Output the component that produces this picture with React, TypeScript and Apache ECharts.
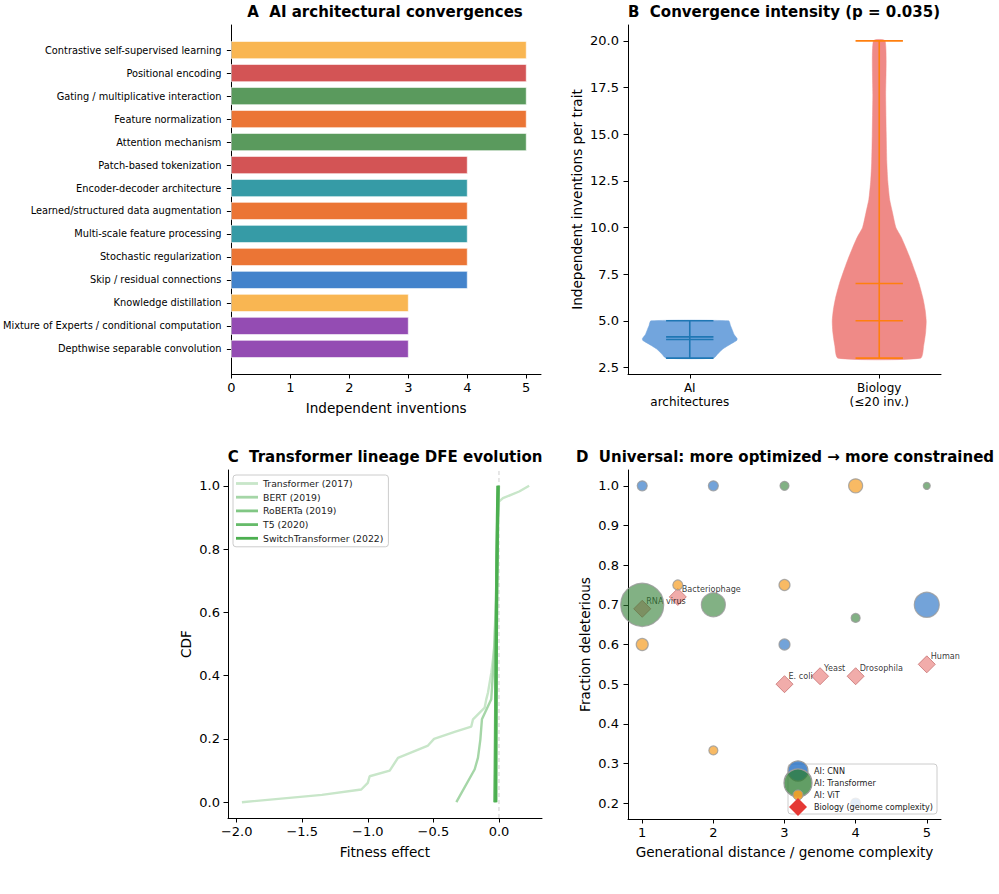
import React, { useEffect, useRef } from 'react';
import * as echarts from 'echarts';

// ---------- Panel A data ----------
const traits = [
  'Contrastive self-supervised learning',
  'Positional encoding',
  'Gating / multiplicative interaction',
  'Feature normalization',
  'Attention mechanism',
  'Patch-based tokenization',
  'Encoder-decoder architecture',
  'Learned/structured data augmentation',
  'Multi-scale feature processing',
  'Stochastic regularization',
  'Skip / residual connections',
  'Knowledge distillation',
  'Mixture of Experts / conditional computation',
  'Depthwise separable convolution',
];
const inventions = [5, 5, 5, 5, 5, 4, 4, 4, 4, 4, 4, 3, 3, 3];
const inventionTicks = [0, 1, 2, 3, 4, 5];
const barColors = [
  '#f9b652', '#d35455', '#5a9a5d', '#eb7535', '#5a9a5d', '#d35455', '#369ba6',
  '#eb7535', '#369ba6', '#eb7535', '#4383cb', '#f9b652', '#944cb3', '#944cb3',
];

// ---------- Panel B data ----------
const violinGroups = ['AI\narchitectures', 'Biology\n(≤20 inv.)'];
const aiLevels = [3.0, 3.25, 3.5, 3.75, 3.95, 4.05, 4.25, 4.5, 4.75, 5.0];
const aiHalfWidths = [0.125, 0.15, 0.176, 0.215, 0.248, 0.25, 0.235, 0.225, 0.215, 0.205];
const bioLevels = [3.0, 3.7, 4.4, 5.0, 5.6, 6.2, 7.0, 7.6, 8.3, 8.9, 9.5, 10.0, 10.8, 11.5, 12.5, 13.5, 15, 17, 20];
const bioHalfWidths = [0.218, 0.235, 0.245, 0.248, 0.242, 0.231, 0.21, 0.19, 0.165, 0.141, 0.115, 0.088, 0.07, 0.055, 0.045, 0.04, 0.037, 0.034, 0.031];
const groupMin = [3, 3];
const groupMax = [5, 20];
const groupMean = [4.14, 7.0];
const groupMedian = [4, 5];
const intensityTicks = [2.5, 5, 7.5, 10, 12.5, 15, 17.5, 20];

// ---------- Panel C data ----------
const lineageModels = ['Transformer (2017)', 'BERT (2019)', 'RoBERTa (2019)', 'T5 (2020)', 'SwitchTransformer (2022)'];
const transformerDFE = [
  [-1.96, 0.0], [-1.35, 0.023], [-1.05, 0.04], [-1.0, 0.061], [-0.986, 0.082], [-0.833, 0.1],
  [-0.77, 0.14], [-0.541, 0.179], [-0.495, 0.2], [-0.338, 0.222], [-0.211, 0.239], [-0.198, 0.262],
  [-0.109, 0.299], [-0.097, 0.325], [-0.084, 0.346], [-0.058, 0.41], [-0.04, 0.473], [-0.033, 0.514],
  [-0.02, 0.65], [-0.01, 0.8], [0.0, 0.95], [0.03, 0.961], [0.154, 0.982], [0.23, 1.0],
];
const bertDFE = [
  [-0.325, 0.0], [-0.185, 0.104], [-0.16, 0.141], [-0.142, 0.198], [-0.13, 0.262], [-0.059, 0.325],
  [-0.046, 0.41], [-0.033, 0.514], [-0.02, 0.7], [-0.008, 0.9], [0.0, 1.0],
];
const robertaDFE = [[-0.035, 0.0], [-0.03, 0.2], [-0.025, 0.45], [-0.015, 0.75], [-0.006, 0.95], [-0.002, 1.0]];
const t5DFE = [[-0.028, 0.0], [-0.024, 0.4], [-0.016, 0.8], [-0.006, 1.0]];
const switchDFE = [[-0.024, 0.0], [-0.02, 0.5], [-0.012, 0.9], [-0.008, 1.0]];
const fitnessTicks = [-2, -1.5, -1, -0.5, 0];
const cdfTicks = [0, 0.2, 0.4, 0.6, 0.8, 1.0];

// ---------- Panel D data ----------
const cnnX = [1, 2, 3, 5, 4];
const cnnY = [1.0, 1.0, 0.6, 0.7, 0.2];
const cnnArea = [100, 100, 121, 625, 100];
const transX = [1, 2, 3, 4, 5];
const transY = [0.7, 0.7, 1.0, 0.667, 1.0];
const transArea = [1849, 576, 81, 81, 49];
const vitX = [1, 1.5, 2, 3, 4];
const vitY = [0.6, 0.75, 0.333, 0.75, 1.0];
const vitArea = [144, 100, 81, 121, 196];
const organisms = ['RNA virus', 'Bacteriophage', 'E. coli', 'Yeast', 'Drosophila', 'Human'];
const organismX = [1, 1.5, 3, 3.5, 4, 5];
const organismY = [0.69, 0.72, 0.5, 0.52, 0.52, 0.55];
const distanceTicks = [1, 2, 3, 4, 5];
const fractionTicks = [0.2, 0.3, 0.4, 0.5, 0.6, 0.7, 0.8, 0.9, 1.0];

const FONT = 'DejaVu Sans';
const TICK = 13;
const NAME = 13.6;

function fmtMinus(v: number, d: number) {
  const s = Math.abs(v).toFixed(d);
  return v < -1e-9 ? '\u2212' + s : s;
}

function axisBase(extra: any = {}) {
  return {
    axisLine: { show: true, onZero: false, lineStyle: { color: '#000', width: 1 } },
    splitLine: { show: false },
    nameTextStyle: { color: '#000', fontFamily: FONT, fontSize: NAME },
    ...extra,
  };
}
function ticks(vals: number[]) {
  return { show: true, length: 4.5, customValues: vals, lineStyle: { color: '#000', width: 1 } };
}

export default function App() {
  const ref = useRef<HTMLDivElement>(null);
  useEffect(() => {
    if (!ref.current) return;
    const chart = echarts.init(ref.current, null, { renderer: 'svg' });

    const lineColors = ['#c8e6c9', '#a5d6a7', '#81c784', '#66bb6a', '#4caf50'];
    const lineWidths = [2.4, 2.4, 2.6, 2.9, 3.2];
    const dfeData = [transformerDFE, bertDFE, robertaDFE, t5DFE, switchDFE];

    const titleStyle = (text: string) => ({ text, fontFamily: FONT, fontSize: 15, fontWeight: 'bold', fill: '#000', align: 'center', verticalAlign: 'middle' });

    const option: any = {
      animation: false,
      backgroundColor: '#fff',
      textStyle: { fontFamily: FONT },
      grid: [
        { left: 229, top: 25, width: 312, height: 349 },
        { left: 628, top: 25, width: 313, height: 349 },
        { left: 228, top: 470, width: 314, height: 348 },
        { left: 628, top: 470, width: 313, height: 349 },
      ],
      xAxis: [
        axisBase({
          type: 'value', gridIndex: 0, min: 0, max: 5.25,
          name: 'Independent inventions', nameLocation: 'middle', nameGap: 27,
          axisTick: ticks(inventionTicks),
          axisLabel: { customValues: inventionTicks, color: '#000', fontSize: TICK, margin: 7, fontFamily: FONT },
        }),
        axisBase({
          type: 'value', gridIndex: 1, min: 0.674, max: 2.326,
          axisTick: ticks([1, 2]),
          axisLabel: {
            customValues: [1, 2], color: '#000', fontSize: 12, margin: 7, lineHeight: 14, fontFamily: FONT,
            formatter: (v: number) => violinGroups[Math.round(v) - 1],
          },
        }),
        axisBase({
          type: 'value', gridIndex: 2, min: -2.066, max: 0.328,
          name: 'Fitness effect', nameLocation: 'middle', nameGap: 27,
          axisTick: ticks(fitnessTicks),
          axisLabel: {
            customValues: fitnessTicks, color: '#000', fontSize: TICK, margin: 7, fontFamily: FONT,
            formatter: (v: number) => fmtMinus(v, 1),
          },
        }),
        axisBase({
          type: 'value', gridIndex: 3, min: 0.8, max: 5.2,
          name: 'Generational distance / genome complexity', nameLocation: 'middle', nameGap: 26,
          axisTick: ticks(distanceTicks),
          axisLabel: { customValues: distanceTicks, color: '#000', fontSize: TICK, margin: 7, fontFamily: FONT },
        }),
      ],
      yAxis: [
        axisBase({
          type: 'value', gridIndex: 0, min: -1.09, max: 14.09, inverse: true,
          axisTick: ticks(traits.map((_, i) => i)),
          axisLabel: {
            customValues: traits.map((_, i) => i), color: '#000', fontSize: 9.8, margin: 10, fontFamily: FONT,
            formatter: (v: number) => traits[Math.round(v)],
          },
        }),
        axisBase({
          type: 'value', gridIndex: 1, min: 2.15, max: 20.85,
          name: 'Independent inventions per trait', nameLocation: 'middle', nameGap: 44,
          axisTick: ticks(intensityTicks),
          axisLabel: {
            customValues: intensityTicks, color: '#000', fontSize: TICK, margin: 9, fontFamily: FONT,
            formatter: (v: number) => v.toFixed(1),
          },
        }),
        axisBase({
          type: 'value', gridIndex: 2, min: -0.05, max: 1.05,
          name: 'CDF', nameLocation: 'middle', nameGap: 35,
          axisTick: ticks(cdfTicks),
          axisLabel: {
            customValues: cdfTicks, color: '#000', fontSize: TICK, margin: 8, fontFamily: FONT,
            formatter: (v: number) => v.toFixed(1),
          },
        }),
        axisBase({
          type: 'value', gridIndex: 3, min: 0.16, max: 1.04,
          name: 'Fraction deleterious', nameLocation: 'middle', nameGap: 36,
          axisTick: ticks(fractionTicks),
          axisLabel: {
            customValues: fractionTicks, color: '#000', fontSize: TICK, margin: 9, fontFamily: FONT,
            formatter: (v: number) => v.toFixed(1),
          },
        }),
      ],
      legend: {
        data: lineageModels.map((name) => ({ name, icon: 'rect' })),
        orient: 'vertical',
        left: 233, top: 475,
        itemWidth: 22, itemHeight: 2.8, itemGap: 4.7,
        padding: [4, 5, 4, 3],
        backgroundColor: 'rgba(255,255,255,0.8)',
        borderColor: '#cccccc', borderWidth: 1, borderRadius: 3,
        textStyle: { fontSize: 9.3, color: '#222', fontFamily: FONT },
        selectedMode: false,
      },
      series: [
        // Panel A bars
        {
          type: 'custom', xAxisIndex: 0, yAxisIndex: 0,
          data: inventions.map((v, i) => [v, i]),
          encode: { x: 0, y: 1 },
          renderItem: (params: any, api: any) => {
            const v = api.value(0);
            const i = api.value(1);
            const p0 = api.coord([0, i - 0.375]);
            const p1 = api.coord([v, i + 0.375]);
            return {
              type: 'rect',
              shape: { x: p0[0], y: Math.min(p0[1], p1[1]), width: p1[0] - p0[0], height: Math.abs(p1[1] - p0[1]) },
              style: { fill: barColors[params.dataIndex], stroke: '#ffffff', lineWidth: 0.6 },
            };
          },
        },
        // Panel B violins
        {
          type: 'custom', xAxisIndex: 1, yAxisIndex: 1,
          data: [[1, 0], [2, 1]],
          encode: { x: 0, y: 1 },
          renderItem: (params: any, api: any) => {
            const idx = params.dataIndex;
            const pos = idx + 1;
            const levels = idx === 0 ? aiLevels : bioLevels;
            const halfs = idx === 0 ? aiHalfWidths : bioHalfWidths;
            const fill = idx === 0 ? '#72a5dd' : '#ef8a87';
            const lc = idx === 0 ? '#1f77b4' : '#ff7f0e';
            const pts: number[][] = [];
            for (let j = 0; j < levels.length; j++) pts.push(api.coord([pos + halfs[j], levels[j]]));
            for (let j = levels.length - 1; j >= 0; j--) pts.push(api.coord([pos - halfs[j], levels[j]]));
            const hline = (yv: number) => {
              const a = api.coord([pos - 0.125, yv]);
              const b = api.coord([pos + 0.125, yv]);
              return { type: 'line', shape: { x1: a[0], y1: a[1], x2: b[0], y2: b[1] }, style: { stroke: lc, lineWidth: 1.6 } };
            };
            const top = api.coord([pos, groupMax[idx]]);
            const bot = api.coord([pos, groupMin[idx]]);
            return {
              type: 'group',
              children: [
                { type: 'polygon', shape: { points: pts, smooth: 0.2 }, style: { fill, stroke: fill, lineWidth: 0.5 } },
                { type: 'line', shape: { x1: top[0], y1: top[1], x2: bot[0], y2: bot[1] }, style: { stroke: lc, lineWidth: 1.6 } },
                hline(groupMin[idx]),
                hline(groupMax[idx]),
                hline(groupMean[idx]),
                hline(groupMedian[idx]),
              ],
            };
          },
        },
        // Panel C dashed zero line
        {
          type: 'line', name: 'zero', xAxisIndex: 2, yAxisIndex: 2,
          data: [[0, -0.05], [0, 1.05]], symbol: 'none', silent: true,
          lineStyle: { color: '#cfcfcf', width: 1, type: [4, 3] },
        },
        // Panel C lines
        ...lineageModels.map((name, k) => ({
          type: 'line', name, xAxisIndex: 2, yAxisIndex: 2,
          data: dfeData[k], symbol: 'none', showSymbol: false,
          lineStyle: { color: lineColors[k], width: lineWidths[k] },
          itemStyle: { color: lineColors[k] },
        })),
        // Panel D biology diamonds
        {
          type: 'scatter', name: 'Biology (genome complexity)', xAxisIndex: 3, yAxisIndex: 3,
          data: organismX.map((x, i) => [x, organismY[i], organisms[i]]),
          symbol: 'diamond', symbolSize: 17,
          itemStyle: { color: '#ee9795', borderColor: '#c77272', borderWidth: 1 },
          label: {
            show: true, position: 'inside', align: 'left', verticalAlign: 'middle',
            offset: [4, -8], fontSize: 8.1, color: '#000', fontFamily: FONT,
            formatter: (p: any) => p.data[2],
          },
          z: 2,
        },
        {
          type: 'scatter', name: 'AI: CNN', xAxisIndex: 3, yAxisIndex: 3,
          data: cnnX.map((x, i) => [x, cnnY[i], cnnArea[i]]),
          symbolSize: (d: any) => Math.sqrt(d[2]),
          itemStyle: { color: 'rgba(21,101,192,0.75)', borderColor: '#9a9a9a', borderWidth: 1.2 },
          z: 3,
        },
        {
          type: 'scatter', name: 'AI: Transformer', xAxisIndex: 3, yAxisIndex: 3,
          data: transX.map((x, i) => [x, transY[i], transArea[i]]),
          symbolSize: (d: any) => Math.sqrt(d[2]),
          itemStyle: { color: 'rgba(46,125,50,0.75)', borderColor: '#9a9a9a', borderWidth: 1.2 },
          z: 3,
        },
        {
          type: 'scatter', name: 'AI: ViT', xAxisIndex: 3, yAxisIndex: 3,
          data: vitX.map((x, i) => [x, vitY[i], vitArea[i]]),
          symbolSize: (d: any) => Math.sqrt(d[2]),
          itemStyle: { color: 'rgba(245,160,40,0.9)', borderColor: '#9a9a9a', borderWidth: 1.2 },
          z: 3,
        },
      ],
      graphic: [
        { type: 'text', x: 385, y: 12, z: 100, style: titleStyle('A  AI architectural convergences') },
        { type: 'text', x: 784, y: 12, z: 100, style: titleStyle('B  Convergence intensity (p = 0.035)') },
        { type: 'text', x: 385, y: 457, z: 100, style: titleStyle('C  Transformer lineage DFE evolution') },
        { type: 'text', x: 785, y: 457, z: 100, style: titleStyle('D  Universal: more optimized \u2192 more constrained') },
        // Panel D legend
        { type: 'rect', z: 100, shape: { x: 788, y: 764, width: 149, height: 50, r: 3 }, style: { fill: 'rgba(255,255,255,0.8)', stroke: '#cccccc', lineWidth: 1 } },
        { type: 'circle', z: 101, shape: { cx: 798, cy: 771, r: 10 }, style: { fill: 'rgba(21,101,192,0.75)', stroke: '#9a9a9a', lineWidth: 1.2 } },
        { type: 'circle', z: 102, shape: { cx: 798, cy: 783, r: 14 }, style: { fill: 'rgba(46,125,50,0.75)', stroke: '#9a9a9a', lineWidth: 1.2 } },
        { type: 'circle', z: 103, shape: { cx: 798, cy: 795, r: 5 }, style: { fill: 'rgba(245,160,40,0.9)', stroke: '#9a9a9a', lineWidth: 1 } },
        { type: 'polygon', z: 104, shape: { points: [[798, 798], [807, 807], [798, 816], [789, 807]] }, style: { fill: '#e53935' } },
        { type: 'text', z: 105, x: 814, y: 771, style: { text: 'AI: CNN', fontFamily: FONT, fontSize: 8.1, fill: '#222', verticalAlign: 'middle' } },
        { type: 'text', z: 105, x: 814, y: 783, style: { text: 'AI: Transformer', fontFamily: FONT, fontSize: 8.1, fill: '#222', verticalAlign: 'middle' } },
        { type: 'text', z: 105, x: 814, y: 795, style: { text: 'AI: ViT', fontFamily: FONT, fontSize: 8.1, fill: '#222', verticalAlign: 'middle' } },
        { type: 'text', z: 105, x: 814, y: 807, style: { text: 'Biology (genome complexity)', fontFamily: FONT, fontSize: 8.1, fill: '#222', verticalAlign: 'middle' } },
      ],
    };
    chart.setOption(option);
    return () => chart.dispose();
  }, []);
  return <div ref={ref} style={{ position: 'fixed', left: 0, top: 0, width: 999, height: 894, background: '#fff' }} />;
}
